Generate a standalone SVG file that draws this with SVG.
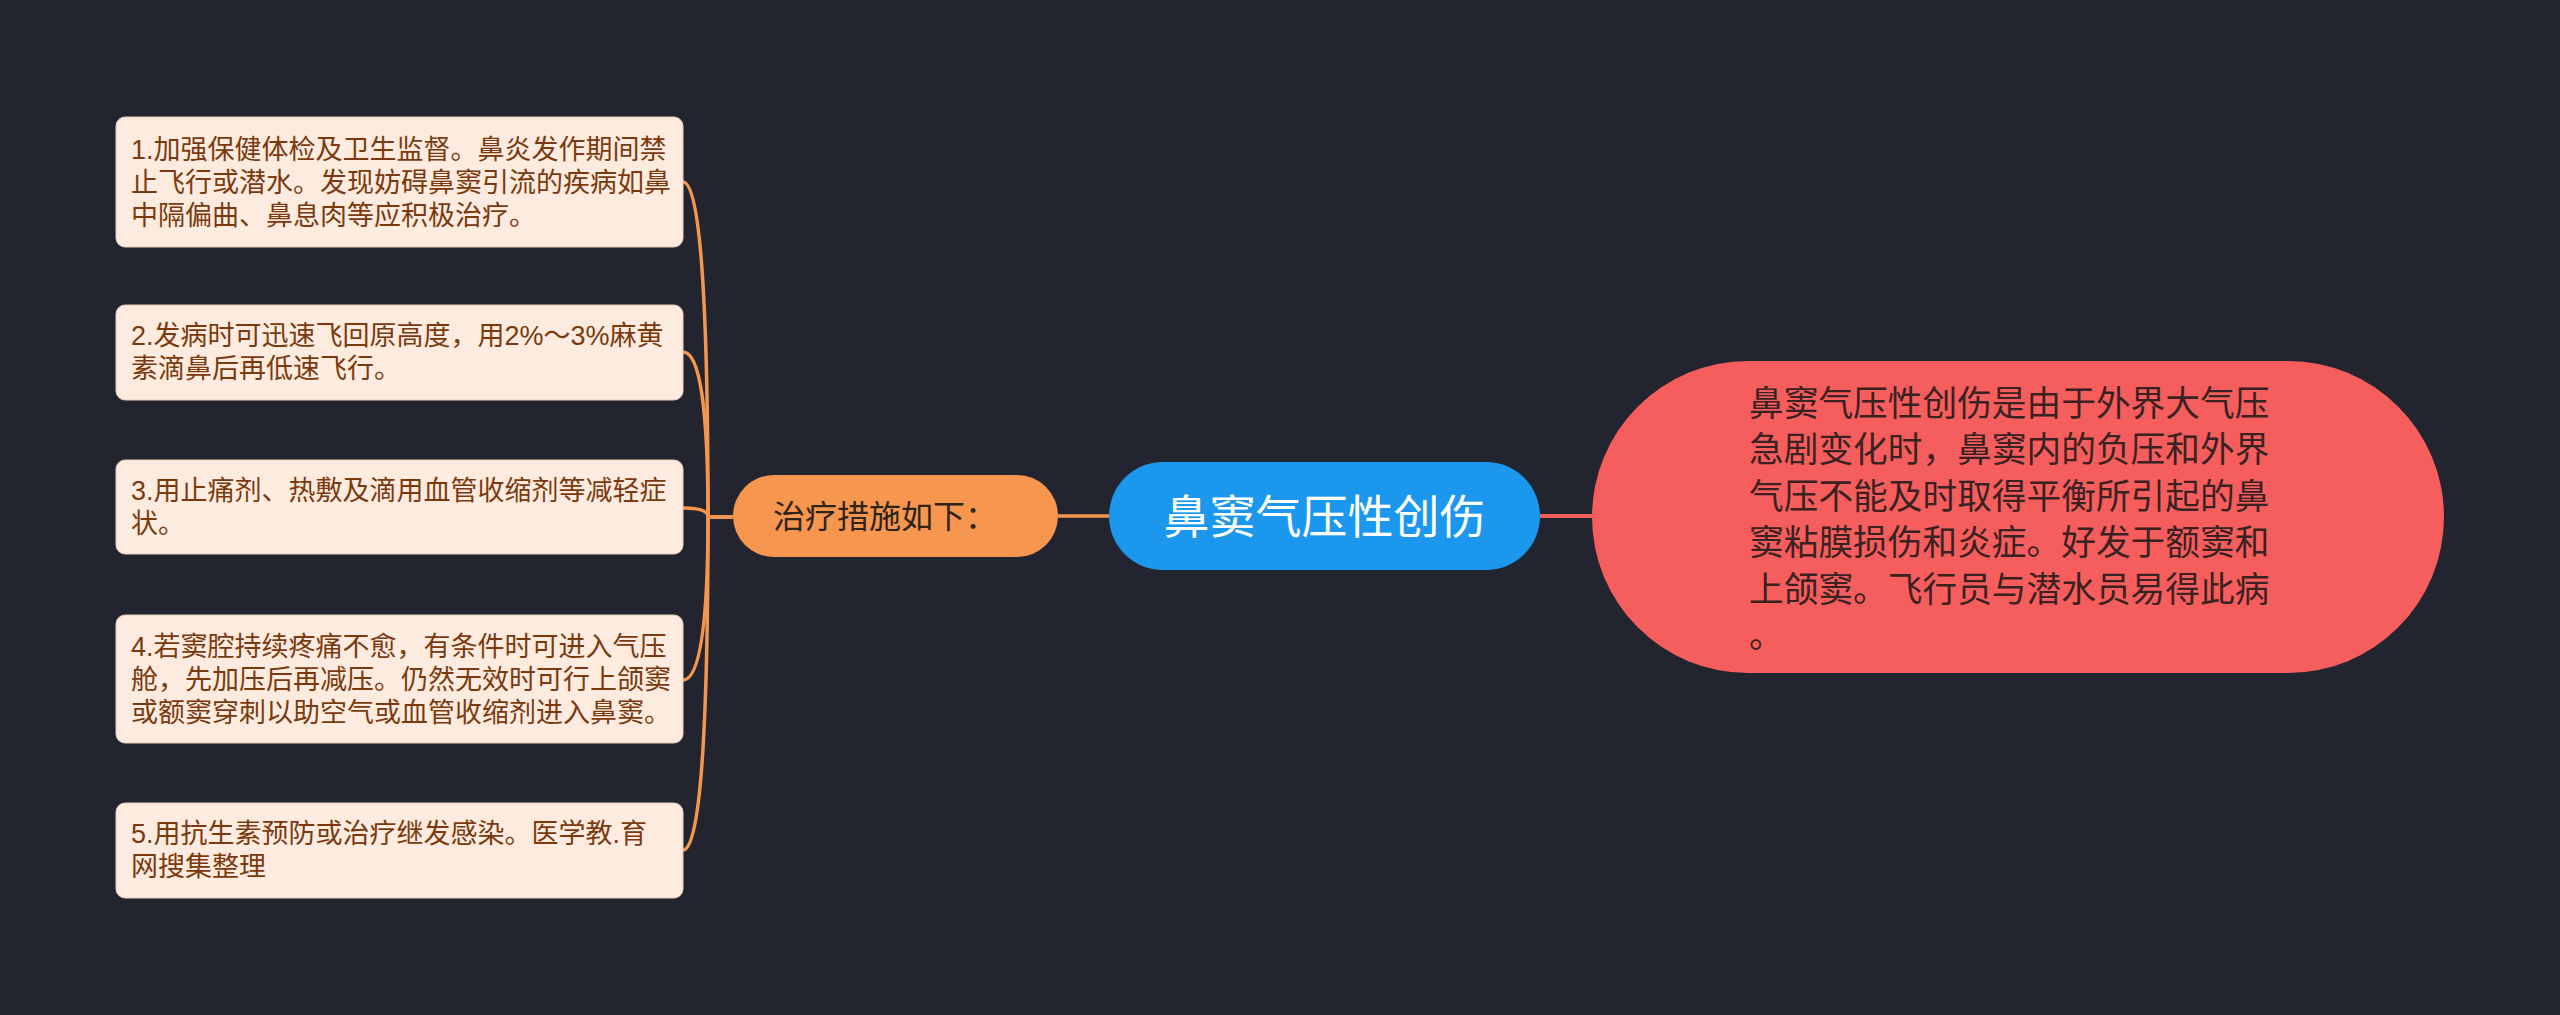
<svg xmlns="http://www.w3.org/2000/svg" width="2560" height="1015" viewBox="0 0 2560 1015">
<style>
.bg{fill:#22252f}
.box{fill:#fdebdf;stroke:#e9cdb9;stroke-width:1}
.bt{font-family:"Liberation Sans","Noto Sans CJK SC",sans-serif;font-size:27px;fill:#7a3a0e}
.conn-o{fill:none;stroke:#f5964f;stroke-width:3.5}
.conn-r{fill:none;stroke:#f25d5d;stroke-width:4}
.sub{fill:#f7964f}
.subt{font-family:"Noto Sans CJK SC","Noto Sans",sans-serif;font-size:32px;fill:#2e241c}
.root{fill:#1b98ee}
.roott{font-family:"Noto Sans CJK SC","Noto Sans",sans-serif;font-size:46px;fill:#ffffff}
.desc{fill:#f65d5d}
.desct{font-family:"Noto Sans CJK SC","Noto Sans",sans-serif;font-size:34.7px;fill:#3a2222}
</style>
<rect class="bg" x="0" y="0" width="2560" height="1015"/>
<g id="connectors">
<path class="conn-r" d="M1540 516 H1592"/>
<path class="conn-o" d="M1109 516 H1058"/>
<path class="conn-o" d="M733 517 H708 Q708 182 683 182"/>
<path class="conn-o" d="M733 517 H708 Q708 352 683 352"/>
<path class="conn-o" d="M733 517 H708 Q708 508 683 508"/>
<path class="conn-o" d="M733 517 H708 Q708 680 683 680"/>
<path class="conn-o" d="M733 517 H708 Q708 850 683 850"/>
</g>
<g id="root">
<rect class="root" x="1109" y="462" width="431" height="108" rx="54"/>
<text class="roott" x="1324.5" y="533" text-anchor="middle">鼻窦气压性创伤</text>
</g>
<g id="desc">
<rect class="desc" x="1592" y="361" width="852" height="312" rx="156"/>
<text class="desct" x="1749"><tspan x="1749" y="416">鼻窦气压性创伤是由于外界大气压</tspan><tspan x="1749" y="462">急剧变化时，鼻窦内的负压和外界</tspan><tspan x="1749" y="509">气压不能及时取得平衡所引起的鼻</tspan><tspan x="1749" y="555">窦粘膜损伤和炎症。好发于额窦和</tspan><tspan x="1749" y="602">上颌窦。飞行员与潜水员易得此病</tspan><tspan x="1749" y="648">。</tspan></text>
</g>
<g id="sub">
<rect class="sub" x="733" y="475" width="325" height="82" rx="41"/>
<text class="subt" x="773" y="528">治疗措施如下：</text>
</g>
<g id="item1">
<rect class="box" x="116" y="117" width="567" height="130" rx="9"/>
<text class="bt"><tspan x="131" y="159">1.加强保健体检及卫生监督。鼻炎发作期间禁</tspan><tspan x="131" y="192">止飞行或潜水。发现妨碍鼻窦引流的疾病如鼻</tspan><tspan x="131" y="225">中隔偏曲、鼻息肉等应积极治疗。</tspan></text>
</g>
<g id="item2">
<rect class="box" x="116" y="305" width="567" height="95" rx="9"/>
<text class="bt"><tspan x="131" y="345">2.发病时可迅速飞回原高度，用2%～3%麻黄</tspan><tspan x="131" y="378">素滴鼻后再低速飞行。</tspan></text>
</g>
<g id="item3">
<rect class="box" x="116" y="460" width="567" height="94" rx="9"/>
<text class="bt"><tspan x="131" y="500">3.用止痛剂、热敷及滴用血管收缩剂等减轻症</tspan><tspan x="131" y="533">状。</tspan></text>
</g>
<g id="item4">
<rect class="box" x="116" y="615" width="567" height="128" rx="9"/>
<text class="bt"><tspan x="131" y="656">4.若窦腔持续疼痛不愈，有条件时可进入气压</tspan><tspan x="131" y="689">舱，先加压后再减压。仍然无效时可行上颌窦</tspan><tspan x="131" y="722">或额窦穿刺以助空气或血管收缩剂进入鼻窦。</tspan></text>
</g>
<g id="item5">
<rect class="box" x="116" y="803" width="567" height="95" rx="9"/>
<text class="bt"><tspan x="131" y="843">5.用抗生素预防或治疗继发感染。医学教.育</tspan><tspan x="131" y="876">网搜集整理</tspan></text>
</g>
</svg>
